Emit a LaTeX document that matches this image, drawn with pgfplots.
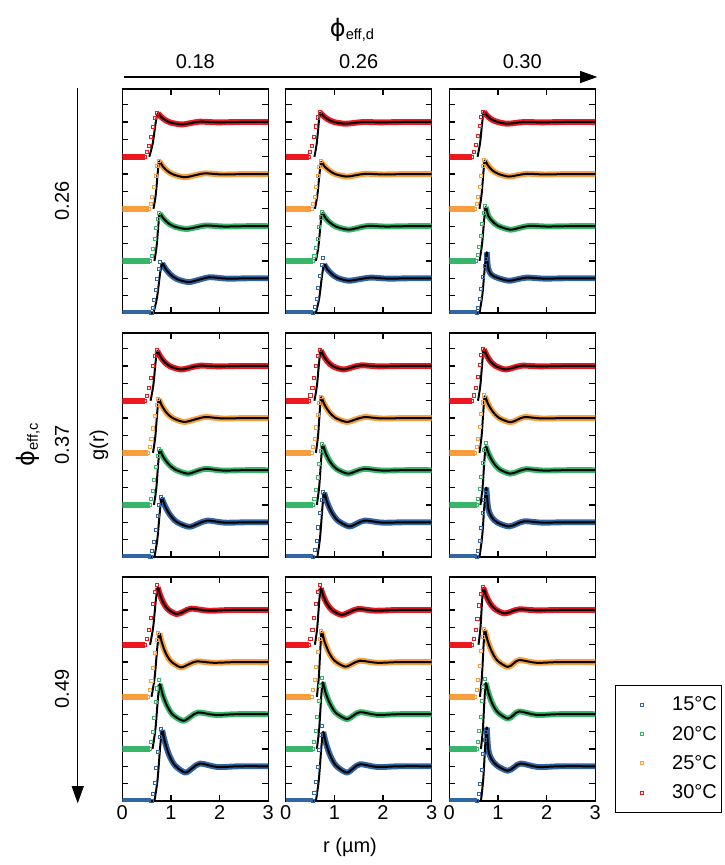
\documentclass[border=0pt]{standalone}
\usepackage{fontspec}
\setmainfont{Liberation Sans}
\newfontfamily\phifont{DejaVu Sans}
\usepackage{pgfplots}
\pgfplotsset{compat=1.18}
\usetikzlibrary{arrows.meta}

\definecolor{c15}{RGB}{49,101,163}
\definecolor{c20}{RGB}{55,181,105}
\definecolor{c25}{RGB}{248,158,60}
\definecolor{c30}{RGB}{236,24,30}

\newcommand{\lbl}{\fontsize{15}{18}\selectfont}

\pgfplotsset{
  gband/.style={color=#1, draw=#1, line width=4.4pt, no markers, line join=round},
  gsq/.style={only marks, mark=square, mark size=1.15pt,
    mark options={draw=#1, line width=0.75pt, solid}},
  gfit/.style={color=black, line width=1.5pt, no markers, line join=round},
  panel/.style={
    scale only axis, width=109.5pt, height=168pt, anchor=north west,
    xmin=0, xmax=3, ymin=0, ymax=6.45,
    xtick={0,1,2,3}, xticklabels={},
    ytick={0.5,1,1.5,2,2.5,3,3.5,4,4.5,5,5.5,6}, yticklabels={},
    tick align=inside, major tick length=4.5pt,
    axis line style={line width=1.1pt},
    every tick/.append style={line width=1pt, black},
    tick label style={font=\lbl},
    /pgf/number format/assume math mode=true,
  },
}

% one temperature: colour, vertical offset, start of the data rise,
% rising part of the fit, fit from its peak on, data points of the rise
\newcommand{\gc}[6]{%
  \addplot[gband={#1}, y filter/.expression={y+#2}] coordinates {(0,0) (#3,0)};
  \addplot[gband={#1}, smooth, tension=0.5, y filter/.expression={y+#2}] coordinates {#5};
  \addplot[gsq={#1}, y filter/.expression={y+#2}] coordinates {#6};
  \addplot[gfit, smooth, tension=0.5, y filter/.expression={y+#2}] coordinates {#4 #5};
}

\begin{document}
\begin{tikzpicture}
\useasboundingbox (0,0) rectangle (543.75pt,-648.75pt);

% ---------------- row 1: phi_eff,c = 0.26
\begin{axis}[panel, at={(91.725pt,-66.75pt)}]
\gc{c15}{0}{0.60}{(0.64,0) (0.712,0.43) (0.775,1.12)}
  {(0.82,1.43) (0.885,1.28) (0.982,1.12) (1.117,0.98) (1.36,0.89) (1.58,0.96) (1.8,1.03) (2.15,0.99) (2.6,1.0) (3,1.0)}
  {(0.60,0) (0.63,0.15) (0.66,0.37) (0.69,0.66) (0.72,0.99) (0.75,1.28) (0.78,1.46)}
\gc{c20}{1.5}{0.57}{(0.66,0) (0.704,0.41) (0.743,1.06)}
  {(0.77,1.36) (0.835,1.24) (0.932,1.10) (1.067,0.99) (1.31,0.92) (1.52,0.97) (1.73,1.02) (2.08,0.99) (2.53,1.0) (3,1.0)}
  {(0.57,0) (0.602,0.14) (0.633,0.35) (0.665,0.62) (0.697,0.94) (0.728,1.21) (0.76,1.38)}
\gc{c25}{3}{0.55}{(0.64,0) (0.688,0.41) (0.73,1.07)}
  {(0.76,1.37) (0.822,1.24) (0.916,1.10) (1.046,0.99) (1.28,0.91) (1.49,0.965) (1.7,1.02) (2.05,0.99) (2.5,1.0) (3,1.0)}
  {(0.55,0) (0.583,0.14) (0.617,0.35) (0.65,0.63) (0.683,0.95) (0.717,1.22) (0.75,1.39)}
\gc{c30}{4.5}{0.47}{(0.555,0) (0.625,0.38) (0.686,0.98)}
  {(0.73,1.25) (0.789,1.16) (0.877,1.06) (1.0,0.98) (1.22,0.93) (1.41,0.97) (1.6,1.01) (1.95,0.99) (2.4,1.0) (3,1.0)}
  {(0.47,0) (0.51,0.13) (0.55,0.32) (0.59,0.57) (0.63,0.86) (0.67,1.11) (0.71,1.26)}
\end{axis}

\begin{axis}[panel, at={(214.275pt,-66.75pt)}]
\gc{c15}{0}{0.57}{(0.62,0) (0.688,0.42) (0.748,1.09)}
  {(0.79,1.40) (0.85,1.27) (0.94,1.13) (1.065,1.01) (1.29,0.93) (1.52,0.975) (1.75,1.02) (2.1,0.99) (2.55,1.0) (3,1.0)}
  {(0.57,0) (0.603,0.16) (0.637,0.40) (0.67,0.71) (0.703,1.07) (0.737,1.39) (0.77,1.58)}
\gc{c20}{1.5}{0.56}{(0.62,0) (0.672,0.41) (0.718,1.07)}
  {(0.75,1.375) (0.815,1.24) (0.912,1.10) (1.047,0.98) (1.29,0.90) (1.495,0.955) (1.7,1.01) (2.05,0.99) (2.5,1.0) (3,1.0)}
  {(0.56,0) (0.592,0.14) (0.623,0.36) (0.655,0.64) (0.687,0.97) (0.718,1.25) (0.75,1.42)}
\gc{c25}{3}{0.53}{(0.60,0) (0.652,0.405) (0.698,1.05)}
  {(0.73,1.35) (0.792,1.23) (0.886,1.11) (1.016,1.0) (1.25,0.93) (1.45,0.97) (1.65,1.01) (2.0,0.99) (2.45,1.0) (3,1.0)}
  {(0.53,0) (0.562,0.14) (0.593,0.35) (0.625,0.62) (0.657,0.94) (0.688,1.21) (0.72,1.38)}
\gc{c30}{4.5}{0.47}{(0.59,0) (0.638,0.38) (0.68,0.99)}
  {(0.71,1.27) (0.771,1.18) (0.863,1.08) (0.99,1.0) (1.22,0.95) (1.41,0.975) (1.6,1.0) (1.95,0.99) (2.4,1.0) (3,1.0)}
  {(0.47,0) (0.508,0.13) (0.547,0.32) (0.585,0.58) (0.623,0.87) (0.662,1.13) (0.70,1.28)}
\end{axis}

\begin{axis}[panel, at={(336.975pt,-66.75pt)}]
\gc{c15}{0}{0.56}{(0.62,0) (0.68,0.53) (0.733,1.37)}
  {(0.77,1.75) (0.797,1.30) (0.86,1.11) (0.995,1.01) (1.22,0.93) (1.41,0.975) (1.6,1.02) (1.95,0.99) (2.4,1.0) (3,1.0)}
  {(0.56,0) (0.593,0.155) (0.627,0.39) (0.66,0.70) (0.693,1.05) (0.727,1.36) (0.76,1.55)}
\gc{c20}{1.5}{0.55}{(0.62,0) (0.672,0.47) (0.718,1.21)}
  {(0.75,1.55) (0.80,1.30) (0.88,1.15) (1.0,1.01) (1.25,0.90) (1.45,0.955) (1.65,1.01) (2.0,0.99) (2.45,1.0) (3,1.0)}
  {(0.55,0) (0.582,0.16) (0.613,0.39) (0.645,0.71) (0.677,1.07) (0.708,1.38) (0.74,1.57)}
\gc{c25}{3}{0.53}{(0.62,0) (0.664,0.42) (0.703,1.08)}
  {(0.73,1.39) (0.789,1.26) (0.877,1.12) (1.0,1.01) (1.22,0.93) (1.41,0.97) (1.6,1.01) (1.95,0.99) (2.4,1.0) (3,1.0)}
  {(0.53,0) (0.562,0.14) (0.593,0.35) (0.625,0.63) (0.657,0.95) (0.688,1.23) (0.72,1.40)}
\gc{c30}{4.5}{0.47}{(0.58,0) (0.632,0.39) (0.678,1.01)}
  {(0.71,1.29) (0.766,1.20) (0.851,1.09) (0.969,1.01) (1.18,0.95) (1.365,0.975) (1.55,1.0) (1.9,0.99) (2.35,1.0) (3,1.0)}
  {(0.47,0) (0.508,0.13) (0.547,0.33) (0.585,0.59) (0.623,0.88) (0.662,1.14) (0.70,1.30)}
\end{axis}

% ---------------- row 2: phi_eff,c = 0.37
\begin{axis}[panel, at={(91.725pt,-249.75pt)}]
\gc{c15}{0}{0.58}{(0.66,0) (0.72,0.51) (0.773,1.33)}
  {(0.81,1.70) (0.877,1.47) (0.978,1.22) (1.118,1.01) (1.37,0.87) (1.56,0.96) (1.75,1.05) (2.1,0.99) (2.55,1.0) (3,1.0)}
  {(0.58,0) (0.617,0.17) (0.653,0.43) (0.69,0.77) (0.727,1.17) (0.763,1.51) (0.80,1.72)}
\gc{c20}{1.5}{0.56}{(0.65,0) (0.698,0.47) (0.74,1.23)}
  {(0.77,1.58) (0.838,1.39) (0.941,1.19) (1.084,1.02) (1.34,0.90) (1.525,0.97) (1.71,1.04) (2.06,0.99) (2.5,1.0) (3,1.0)}
  {(0.56,0) (0.593,0.16) (0.627,0.40) (0.66,0.72) (0.693,1.09) (0.727,1.41) (0.76,1.60)}
\gc{c25}{3}{0.53}{(0.63,0) (0.678,0.46) (0.72,1.20)}
  {(0.75,1.54) (0.812,1.36) (0.906,1.16) (1.036,1.0) (1.27,0.89) (1.49,0.96) (1.71,1.03) (2.06,0.99) (2.5,1.0) (3,1.0)}
  {(0.53,0) (0.565,0.16) (0.60,0.39) (0.635,0.70) (0.67,1.06) (0.705,1.37) (0.74,1.56)}
\gc{c30}{4.5}{0.47}{(0.58,0) (0.636,0.43) (0.685,1.12)}
  {(0.72,1.43) (0.778,1.28) (0.864,1.12) (0.984,0.99) (1.2,0.90) (1.4,0.955) (1.6,1.01) (1.95,0.99) (2.4,1.0) (3,1.0)}
  {(0.47,0) (0.51,0.145) (0.55,0.36) (0.59,0.65) (0.63,0.99) (0.67,1.28) (0.71,1.45)}
\end{axis}

\begin{axis}[panel, at={(214.275pt,-249.75pt)}]
\gc{c15}{0}{0.57}{(0.65,0) (0.706,0.56) (0.755,1.44)}
  {(0.79,1.85) (0.851,1.58) (0.943,1.29) (1.071,1.05) (1.30,0.88) (1.465,0.965) (1.63,1.05) (1.98,0.99) (2.43,1.0) (3,1.0)}
  {(0.57,0) (0.603,0.19) (0.637,0.47) (0.67,0.85) (0.703,1.28) (0.737,1.65) (0.77,1.88)}
\gc{c20}{1.5}{0.56}{(0.64,0) (0.688,0.52) (0.73,1.34)}
  {(0.76,1.72) (0.821,1.49) (0.913,1.24) (1.04,1.04) (1.27,0.90) (1.445,0.97) (1.62,1.04) (1.97,0.99) (2.42,1.0) (3,1.0)}
  {(0.56,0) (0.592,0.175) (0.623,0.44) (0.655,0.79) (0.687,1.19) (0.718,1.54) (0.75,1.75)}
\gc{c25}{3}{0.53}{(0.62,0) (0.664,0.48) (0.703,1.25)}
  {(0.73,1.60) (0.792,1.40) (0.886,1.19) (1.016,1.01) (1.25,0.89) (1.435,0.96) (1.62,1.03) (1.97,0.99) (2.42,1.0) (3,1.0)}
  {(0.53,0) (0.562,0.16) (0.593,0.405) (0.625,0.73) (0.657,1.10) (0.688,1.43) (0.72,1.62)}
\gc{c30}{4.5}{0.47}{(0.59,0) (0.642,0.44) (0.688,1.13)}
  {(0.72,1.45) (0.775,1.30) (0.858,1.13) (0.973,0.99) (1.18,0.90) (1.365,0.96) (1.55,1.02) (1.9,0.99) (2.35,1.0) (3,1.0)}
  {(0.47,0) (0.51,0.15) (0.55,0.37) (0.59,0.66) (0.63,1.0) (0.67,1.29) (0.71,1.47)}
\end{axis}

\begin{axis}[panel, at={(336.975pt,-249.75pt)}]
\gc{c15}{0}{0.56}{(0.62,0) (0.676,0.60) (0.725,1.56)}
  {(0.76,2.0) (0.80,1.40) (0.87,1.15) (0.99,0.99) (1.22,0.88) (1.385,0.955) (1.55,1.03) (1.9,0.99) (2.35,1.0) (3,1.0)}
  {(0.56,0) (0.592,0.185) (0.623,0.46) (0.655,0.83) (0.687,1.26) (0.718,1.63) (0.75,1.85)}
\gc{c20}{1.5}{0.56}{(0.64,0) (0.684,0.51) (0.723,1.32)}
  {(0.75,1.69) (0.81,1.47) (0.90,1.23) (1.025,1.03) (1.25,0.90) (1.415,0.965) (1.58,1.03) (1.93,0.99) (2.38,1.0) (3,1.0)}
  {(0.56,0) (0.591,0.18) (0.622,0.445) (0.653,0.80) (0.683,1.21) (0.714,1.57) (0.745,1.78)}
\gc{c25}{3}{0.53}{(0.62,0) (0.664,0.49) (0.703,1.27)}
  {(0.73,1.63) (0.792,1.42) (0.886,1.20) (1.016,1.01) (1.25,0.88) (1.40,0.955) (1.55,1.03) (1.9,0.99) (2.35,1.0) (3,1.0)}
  {(0.53,0) (0.562,0.165) (0.593,0.41) (0.625,0.74) (0.657,1.12) (0.688,1.45) (0.72,1.65)}
\gc{c30}{4.5}{0.47}{(0.59,0) (0.638,0.44) (0.68,1.15)}
  {(0.71,1.48) (0.763,1.32) (0.842,1.14) (0.952,1.0) (1.15,0.90) (1.325,0.955) (1.5,1.01) (1.85,0.99) (2.3,1.0) (3,1.0)}
  {(0.47,0) (0.508,0.15) (0.547,0.375) (0.585,0.675) (0.623,1.02) (0.662,1.32) (0.70,1.50)}
\end{axis}

% ---------------- row 3: phi_eff,c = 0.49
\begin{axis}[panel, at={(91.725pt,-432.75pt)}, xticklabels={0,1,2,3}]
\gc{c15}{0}{0.60}{(0.66,0) (0.724,0.61) (0.78,1.59)}
  {(0.82,2.04) (0.876,1.70) (0.961,1.33) (1.079,1.03) (1.29,0.82) (1.445,0.95) (1.6,1.08) (1.95,0.98) (2.4,1.0) (3,1.0)}
  {(0.60,0) (0.633,0.21) (0.667,0.52) (0.70,0.94) (0.733,1.41) (0.767,1.83) (0.80,2.08)}
\gc{c20}{1.5}{0.56}{(0.62,0) (0.68,0.56) (0.733,1.46)}
  {(0.77,1.87) (0.828,1.57) (0.914,1.26) (1.034,0.99) (1.25,0.81) (1.405,0.93) (1.56,1.05) (1.91,0.98) (2.36,1.0) (3,1.0)}
  {(0.56,0) (0.592,0.20) (0.623,0.495) (0.655,0.89) (0.687,1.35) (0.718,1.74) (0.75,1.98)}
\gc{c25}{3}{0.53}{(0.60,0) (0.664,0.55) (0.72,1.43)}
  {(0.76,1.83) (0.813,1.56) (0.892,1.26) (1.002,1.02) (1.2,0.85) (1.365,0.935) (1.53,1.02) (1.88,0.98) (2.33,1.0) (3,1.0)}
  {(0.53,0) (0.565,0.185) (0.60,0.46) (0.635,0.83) (0.67,1.26) (0.705,1.63) (0.74,1.85)}
\gc{c30}{4.5}{0.47}{(0.57,0) (0.634,0.50) (0.69,1.29)}
  {(0.73,1.65) (0.777,1.43) (0.847,1.20) (0.945,1.01) (1.12,0.88) (1.27,0.96) (1.42,1.04) (1.77,0.98) (2.22,1.0) (3,1.0)}
  {(0.47,0) (0.51,0.17) (0.55,0.43) (0.59,0.77) (0.63,1.17) (0.67,1.51) (0.71,1.72)}
\end{axis}

\begin{axis}[panel, at={(214.275pt,-432.75pt)}, xticklabels={0,1,2,3}]
\gc{c15}{0}{0.56}{(0.62,0) (0.68,0.60) (0.733,1.55)}
  {(0.77,1.99) (0.828,1.66) (0.914,1.31) (1.034,1.02) (1.25,0.82) (1.39,0.94) (1.53,1.06) (1.88,0.98) (2.33,1.0) (3,1.0)}
  {(0.56,0) (0.592,0.22) (0.623,0.54) (0.655,0.97) (0.687,1.47) (0.718,1.90) (0.75,2.16)}
\gc{c20}{1.5}{0.56}{(0.64,0) (0.688,0.58) (0.73,1.50)}
  {(0.76,1.92) (0.819,1.62) (0.907,1.31) (1.03,1.04) (1.25,0.86) (1.39,0.96) (1.53,1.06) (1.88,0.98) (2.33,1.0) (3,1.0)}
  {(0.56,0) (0.59,0.205) (0.62,0.51) (0.65,0.92) (0.68,1.39) (0.71,1.80) (0.74,2.05)}
\gc{c25}{3}{0.53}{(0.64,0) (0.68,0.56) (0.715,1.46)}
  {(0.74,1.87) (0.798,1.59) (0.884,1.29) (1.004,1.04) (1.22,0.87) (1.375,0.955) (1.53,1.04) (1.88,0.98) (2.33,1.0) (3,1.0)}
  {(0.53,0) (0.563,0.19) (0.597,0.475) (0.63,0.855) (0.663,1.29) (0.697,1.67) (0.73,1.90)}
\gc{c30}{4.5}{0.47}{(0.60,0) (0.648,0.49) (0.69,1.27)}
  {(0.72,1.63) (0.772,1.41) (0.849,1.18) (0.957,0.99) (1.15,0.86) (1.32,0.945) (1.49,1.03) (1.84,0.98) (2.29,1.0) (3,1.0)}
  {(0.47,0) (0.51,0.17) (0.55,0.43) (0.59,0.77) (0.63,1.17) (0.67,1.51) (0.71,1.72)}
\end{axis}

\begin{axis}[panel, at={(336.975pt,-432.75pt)}, xticklabels={0,1,2,3}]
\gc{c15}{0}{0.57}{(0.65,0) (0.698,0.64) (0.74,1.65)}
  {(0.77,2.12) (0.80,1.50) (0.86,1.22) (0.98,1.02) (1.2,0.87) (1.335,0.975) (1.47,1.08) (1.82,0.98) (2.27,1.0) (3,1.0)}
  {(0.57,0) (0.602,0.20) (0.633,0.50) (0.665,0.90) (0.697,1.36) (0.728,1.76) (0.76,2.0)}
\gc{c20}{1.5}{0.56}{(0.65,0) (0.69,0.57) (0.725,1.48)}
  {(0.75,1.90) (0.804,1.61) (0.885,1.30) (0.998,1.05) (1.2,0.87) (1.32,0.975) (1.44,1.08) (1.79,0.98) (2.24,1.0) (3,1.0)}
  {(0.56,0) (0.588,0.20) (0.617,0.505) (0.645,0.91) (0.673,1.37) (0.702,1.78) (0.73,2.02)}
\gc{c25}{3}{0.53}{(0.63,0) (0.67,0.58) (0.705,1.50)}
  {(0.73,1.92) (0.786,1.62) (0.871,1.31) (0.989,1.04) (1.2,0.86) (1.32,0.96) (1.44,1.06) (1.79,0.98) (2.24,1.0) (3,1.0)}
  {(0.53,0) (0.562,0.195) (0.593,0.49) (0.625,0.88) (0.657,1.33) (0.688,1.72) (0.72,1.95)}
\gc{c30}{4.5}{0.47}{(0.60,0) (0.64,0.49) (0.675,1.28)}
  {(0.70,1.64) (0.752,1.43) (0.829,1.21) (0.937,1.03) (1.13,0.90) (1.285,0.96) (1.44,1.02) (1.79,0.99) (2.24,1.0) (3,1.0)}
  {(0.47,0) (0.507,0.17) (0.543,0.415) (0.58,0.75) (0.617,1.13) (0.653,1.46) (0.69,1.66)}
\end{axis}

% ---------------- legend
\begin{axis}[at={(461.25pt,-513.75pt)}, anchor=north west, hide axis,
  scale only axis, width=10pt, height=10pt, xmin=0, xmax=1, ymin=0, ymax=1,
  legend style={at={(0,1)}, anchor=north west, draw=black, line width=0.8pt,
    font=\lbl, inner xsep=2pt, inner ysep=7pt, row sep=7pt,
    nodes={inner sep=1.5pt}},
  legend cell align=left,
  legend image code/.code={\path[draw=none] (0pt,0pt) -- (39pt,0pt);
    \draw[#1] plot coordinates {(17.5pt,0pt)};},
]
\addlegendimage{gsq=c15}
\addlegendimage{gsq=c20}
\addlegendimage{gsq=c25}
\addlegendimage{gsq=c30}
\legend{15°C,20°C,25°C,30°C}
\end{axis}

% ---------------- outer labels and arrows
\draw[line width=1.1pt, -{Triangle[length=13pt,width=9pt]}] (93pt,-57.75pt) -- (448pt,-57.75pt);
\draw[line width=1.1pt, -{Triangle[length=13pt,width=9pt]}] (58.3pt,-66pt) -- (58.3pt,-602.5pt);
\node[inner sep=0] at (264pt,-22.5pt) {{\phifont\fontsize{18}{22}\selectfont ϕ}\raisebox{-0.45ex}{\fontsize{11}{13}\selectfont eff,d}};
\node[inner sep=0, font=\lbl] at (146.5pt,-46.5pt) {0.18};
\node[inner sep=0, font=\lbl] at (269pt,-46.5pt) {0.26};
\node[inner sep=0, font=\lbl] at (391.7pt,-46.5pt) {0.30};
\node[inner sep=0, rotate=90] at (21pt,-333.75pt) {{\phifont\fontsize{18}{22}\selectfont ϕ}\raisebox{-0.45ex}{\fontsize{11}{13}\selectfont eff,c}};
\node[inner sep=0, font=\lbl, rotate=90] at (46.5pt,-150.75pt) {0.26};
\node[inner sep=0, font=\lbl, rotate=90] at (46.5pt,-333.75pt) {0.37};
\node[inner sep=0, font=\lbl, rotate=90] at (46.5pt,-516.75pt) {0.49};
\node[inner sep=0, font=\lbl, rotate=90] at (74.25pt,-333.75pt) {g(r)};
\node[inner sep=0, font=\lbl] at (262.5pt,-635.25pt) {r (µm)};
\end{tikzpicture}
\end{document}
